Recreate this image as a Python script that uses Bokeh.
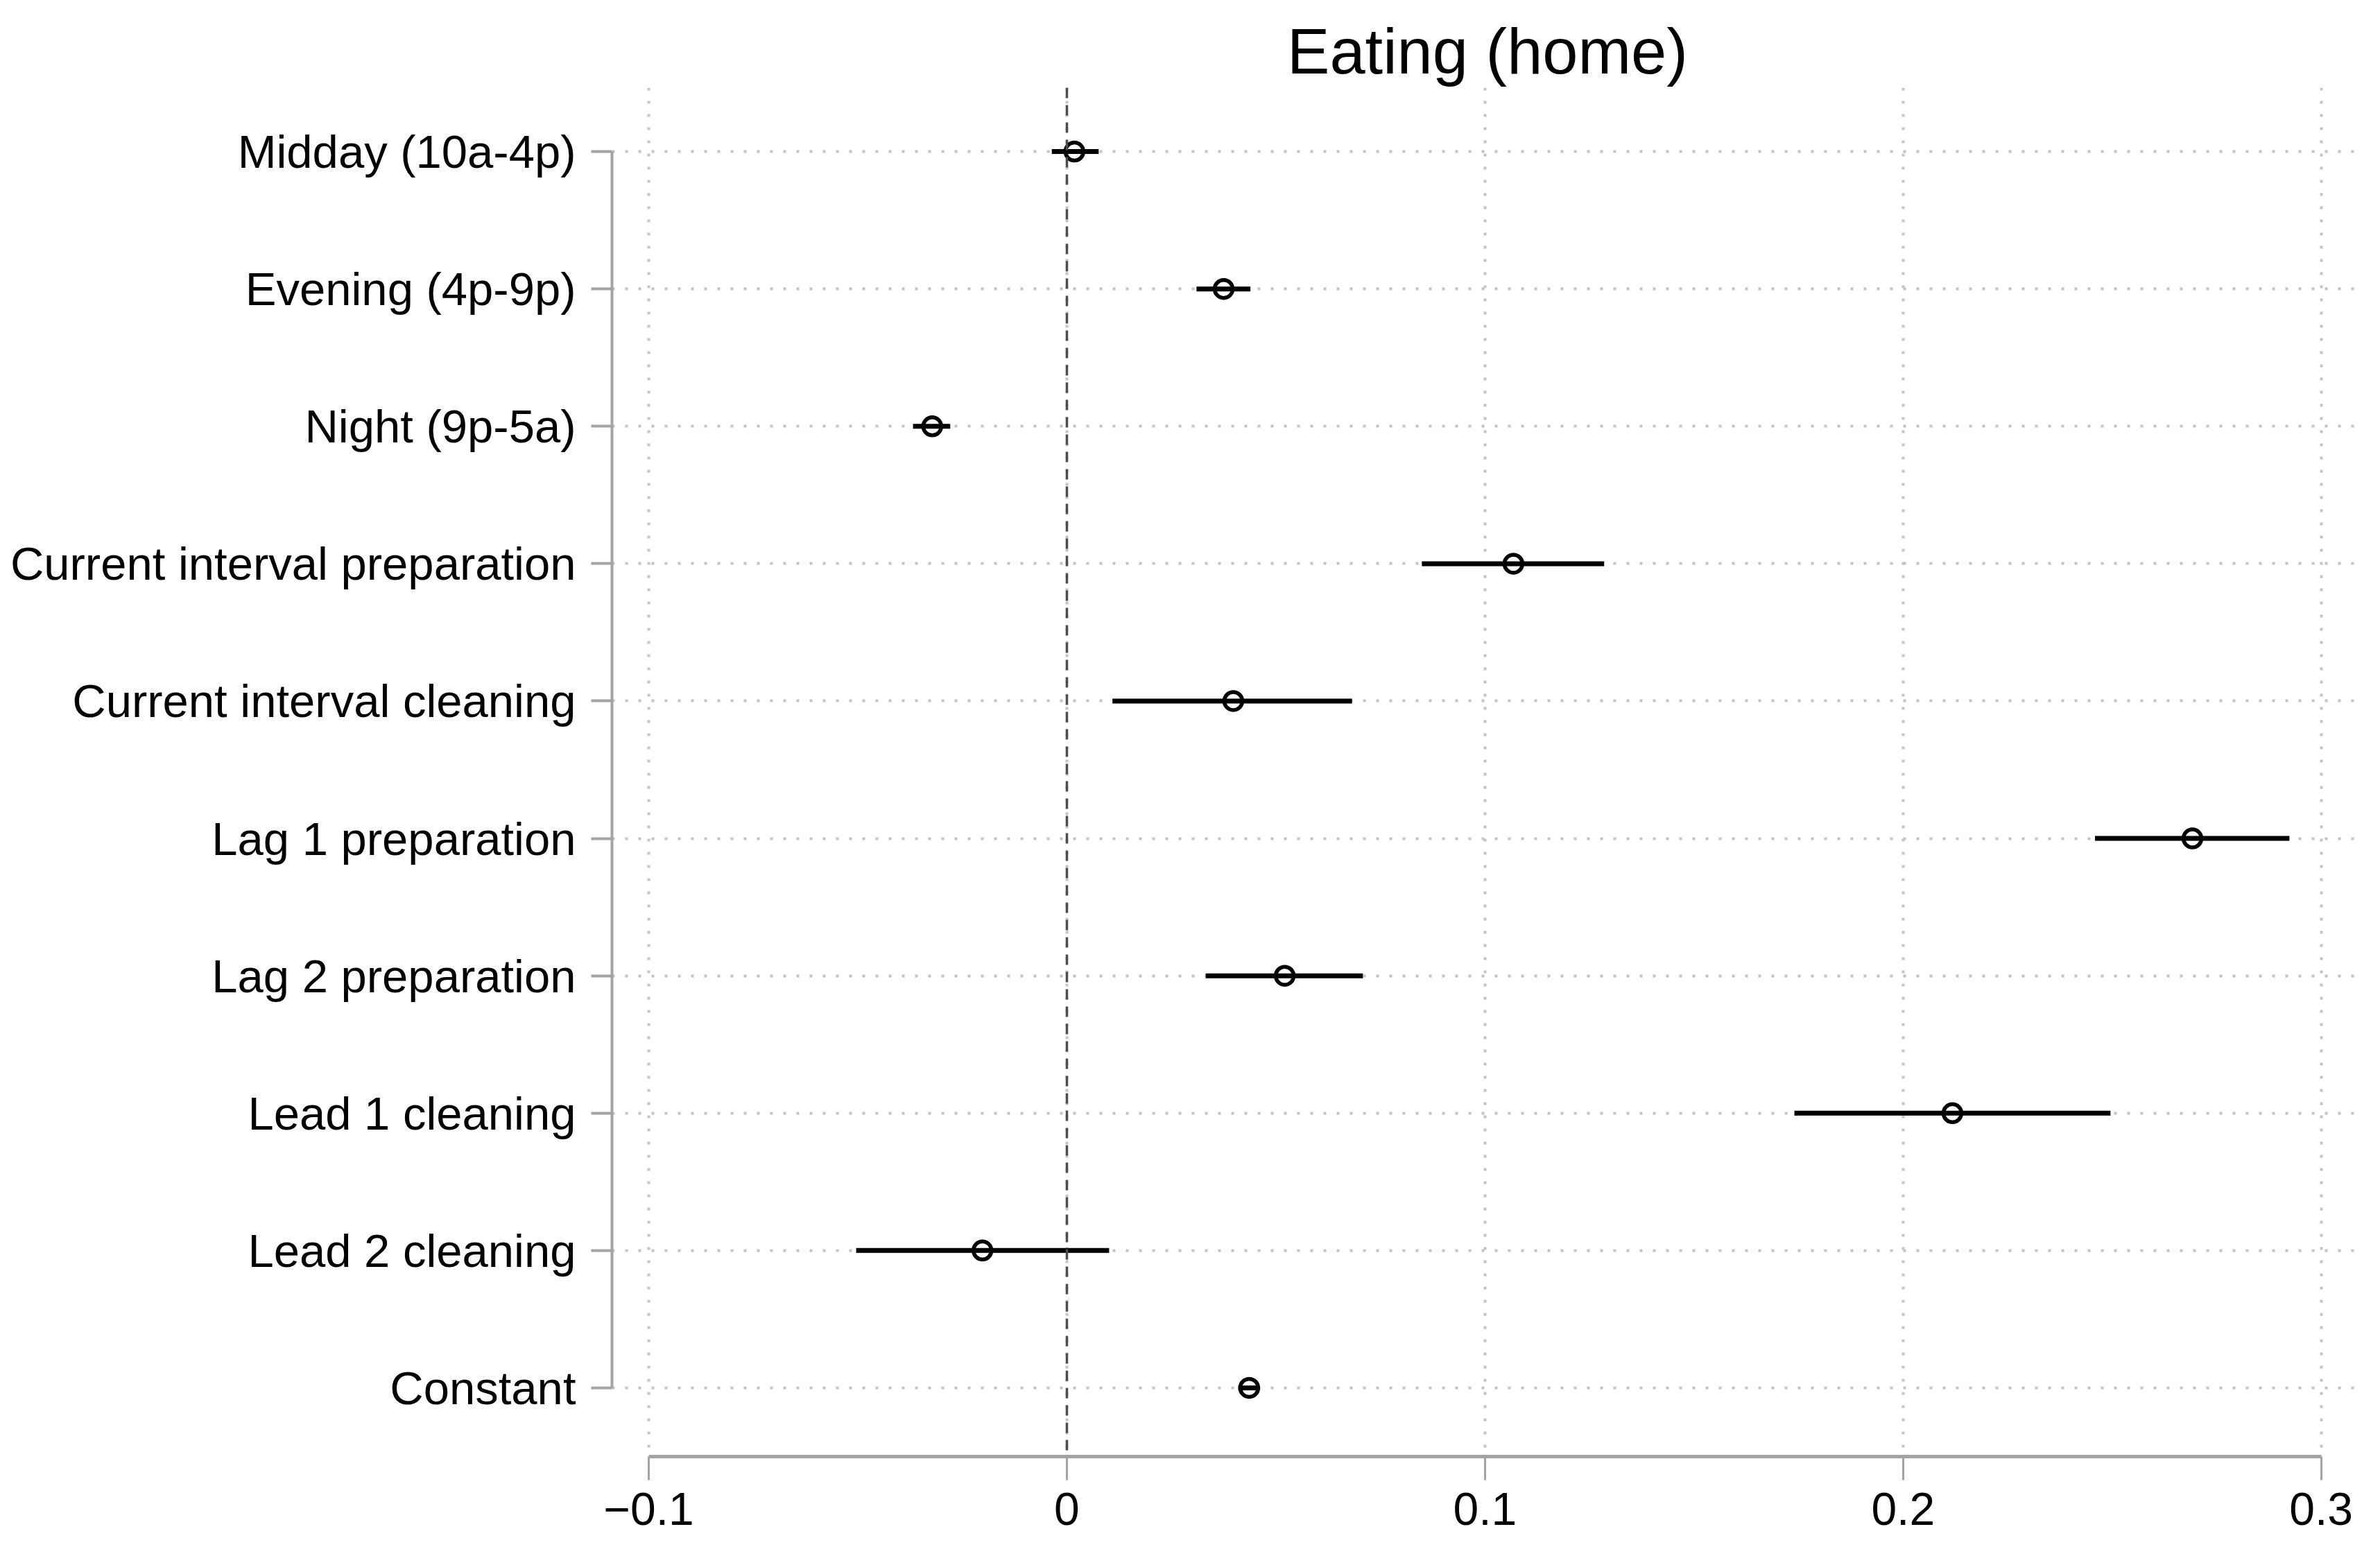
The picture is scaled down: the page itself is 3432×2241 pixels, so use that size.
from bokeh.plotting import figure
from bokeh.models import FixedTicker, Span, ColumnDataSource, Range1d
from bokeh.embed import file_html
from bokeh.resources import INLINE

categories = [
    "Midday (10a-4p)",
    "Evening (4p-9p)",
    "Night (9p-5a)",
    "Current interval preparation",
    "Current interval cleaning",
    "Lag 1 preparation",
    "Lag 2 preparation",
    "Lead 1 cleaning",
    "Lead 2 cleaning",
    "Constant",
]
estimates = [0.0018, 0.0375, -0.0322, 0.1068, 0.0398, 0.2692, 0.0521, 0.2118, -0.0202, 0.0436]
ci_low = [-0.0036, 0.0310, -0.0368, 0.0849, 0.0109, 0.2459, 0.0332, 0.1740, -0.0504, 0.0410]
ci_high = [0.0076, 0.0439, -0.0279, 0.1285, 0.0682, 0.2924, 0.0708, 0.2496, 0.0101, 0.0461]
x_ticks = [-0.1, 0, 0.1, 0.2, 0.3]
x_tick_labels = ["\u22120.1", "0", "0.1", "0.2", "0.3"]
title_text = "Eating (home)"

ypos = list(range(1, len(categories) + 1))
src = ColumnDataSource(dict(y=ypos, est=estimates, lo=ci_low, hi=ci_high, cat=categories))

FONT = "Liberation Sans"
GRAY_AXIS = "#a3a3a3"
GRID = "#c4c4c4"

p = figure(
    width=3416, height=2225,
    x_range=Range1d(-0.1088, 0.3100),
    y_range=Range1d(10.5, 0.535),
    output_backend="svg", toolbar_location=None,
    min_border_left=882, min_border_right=9,
    min_border_top=126, min_border_bottom=125,
)
p.outline_line_color = None
p.background_fill_color = "white"
p.border_fill_color = "white"

p.title.text = title_text
p.title.align = "center"
p.title.vertical_align = "top"
p.title.text_font = FONT
p.title.text_font_size = "92px"
p.title.text_font_style = "normal"
p.title.text_color = "black"
p.title.standoff = 0

# Y axis
p.yaxis.ticker = FixedTicker(ticks=ypos)
p.yaxis.major_label_overrides = {i: c for i, c in zip(ypos, categories)}
p.yaxis.bounds = (ypos[0], ypos[-1])
p.yaxis.axis_line_color = GRAY_AXIS
p.yaxis.axis_line_width = 4
p.yaxis.major_tick_line_color = GRAY_AXIS
p.yaxis.major_tick_line_width = 4
p.yaxis.major_tick_out = 30
p.yaxis.major_tick_in = 0
p.yaxis.minor_tick_line_color = None
p.yaxis.major_label_standoff = 22
p.yaxis.major_label_text_font = FONT
p.yaxis.major_label_text_font_size = "67px"
p.yaxis.major_label_text_color = "black"

# X axis
p.xaxis.ticker = FixedTicker(ticks=x_ticks)
p.xaxis.major_label_overrides = {t: l for t, l in zip(x_ticks, x_tick_labels)}
p.xaxis.bounds = (x_ticks[0], x_ticks[-1])
p.xaxis.axis_line_color = GRAY_AXIS
p.xaxis.axis_line_width = 5
p.xaxis.major_tick_line_color = GRAY_AXIS
p.xaxis.major_tick_line_width = 3
p.xaxis.major_tick_out = 34
p.xaxis.major_tick_in = 0
p.xaxis.minor_tick_line_color = None
p.xaxis.major_label_standoff = 18
p.xaxis.major_label_text_font = FONT
p.xaxis.major_label_text_font_size = "66px"
p.xaxis.major_label_text_color = "black"

# Grids
for g in (p.xgrid, p.ygrid):
    g.grid_line_color = GRID
    g.grid_line_width = 4
    g.grid_line_dash = "4 15"

zero = Span(location=0, dimension="height", line_color="#4d4d4d",
            line_width=3.5, line_dash="15 10")
p.add_layout(zero)

p.segment(x0="lo", y0="y", x1="hi", y1="y", source=src,
          line_color="black", line_width=7)
p.scatter(x="est", y="y", source=src, marker="circle", size=26,
          fill_alpha=0, line_color="black", line_width=5.5)

open("out.html", "w").write(file_html(p, INLINE))
